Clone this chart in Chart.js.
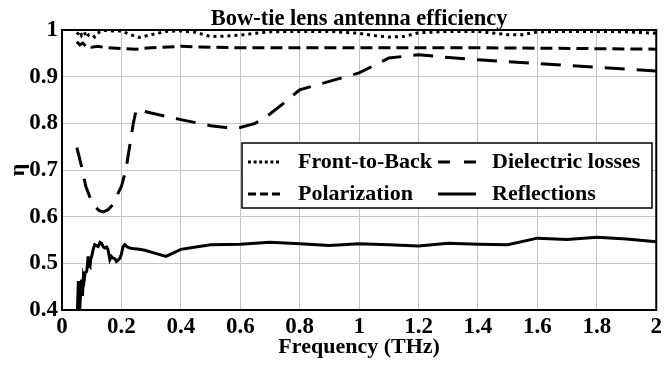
<!DOCTYPE html>
<html>
<head>
<meta charset="utf-8">
<script src="https://cdn.jsdelivr.net/npm/chart.js@4"></script>
<style>
  html, body { margin: 0; padding: 0; background: #fff; }
  #wrap { width: 665px; height: 368px; }
</style>
</head>
<body>
<div id="wrap"><canvas id="grafico" width="665" height="368"></canvas></div>
<script>
// dados
var freqFB = [0.05, 0.06, 0.066, 0.075, 0.083, 0.09, 0.1, 0.11, 0.12, 0.13, 0.14, 0.15, 0.17, 0.2, 0.23, 0.26, 0.3, 0.35, 0.4, 0.45, 0.5, 0.55, 0.6, 0.65, 0.7, 0.8, 0.9, 1.0, 1.05, 1.1, 1.15, 1.2, 1.3, 1.4, 1.5, 1.55, 1.6, 1.7, 1.8, 1.9, 2.0];
var frontToBack = [0.99, 0.998, 0.988, 0.995, 0.984, 0.99, 0.991, 0.985, 0.993, 0.997, 0.999, 0.999, 0.998, 0.998, 0.99, 0.984, 0.99, 0.997, 0.998, 0.995, 0.986, 0.987, 0.989, 0.993, 0.996, 0.997, 0.997, 0.993, 0.988, 0.985, 0.986, 0.994, 0.997, 0.997, 0.99, 0.99, 0.996, 0.997, 0.997, 0.996, 0.993];

var freqPol = [0.05, 0.06, 0.07, 0.08, 0.09, 0.1, 0.12, 0.15, 0.2, 0.25, 0.3, 0.4, 0.5, 0.6, 0.8, 1.0, 1.2, 1.4, 1.6, 1.8, 2.0];
var polarization = [0.975, 0.968, 0.972, 0.965, 0.967, 0.963, 0.965, 0.962, 0.96, 0.959, 0.962, 0.965, 0.963, 0.962, 0.962, 0.962, 0.962, 0.962, 0.961, 0.96, 0.959];

var freqDL = [0.05, 0.065, 0.08, 0.095, 0.11, 0.125, 0.14, 0.155, 0.17, 0.185, 0.2, 0.215, 0.23, 0.24, 0.25, 0.3, 0.4, 0.5, 0.55, 0.6, 0.65, 0.7, 0.75, 0.8, 0.9, 1.0, 1.1, 1.2, 1.3, 1.4, 1.5, 1.6, 1.7, 1.8, 1.9, 2.0];
var dielectric = [0.748, 0.71, 0.665, 0.64, 0.622, 0.613, 0.61, 0.615, 0.625, 0.645, 0.665, 0.70, 0.76, 0.80, 0.83, 0.822, 0.808, 0.795, 0.791, 0.791, 0.80, 0.82, 0.845, 0.872, 0.89, 0.908, 0.94, 0.947, 0.941, 0.936, 0.932, 0.928, 0.924, 0.92, 0.916, 0.912];

var freqRf = [0.049, 0.052, 0.055, 0.058, 0.06, 0.063, 0.066, 0.069, 0.072, 0.075, 0.078, 0.083, 0.086, 0.088, 0.091, 0.094, 0.097, 0.1, 0.105, 0.11, 0.116, 0.122, 0.128, 0.133, 0.139, 0.144, 0.15, 0.155, 0.161, 0.166, 0.172, 0.178, 0.183, 0.189, 0.195, 0.2, 0.205, 0.211, 0.22, 0.228, 0.245, 0.26, 0.279, 0.3, 0.35, 0.4, 0.45, 0.5, 0.6, 0.7, 0.8, 0.9, 1.0, 1.1, 1.2, 1.3, 1.4, 1.5, 1.6, 1.7, 1.8, 1.9, 2.0];
var reflections = [0.40, 0.40, 0.462, 0.41, 0.405, 0.44, 0.465, 0.43, 0.472, 0.465, 0.48, 0.482, 0.50, 0.515, 0.495, 0.493, 0.51, 0.515, 0.53, 0.54, 0.538, 0.536, 0.545, 0.543, 0.535, 0.533, 0.535, 0.529, 0.508, 0.515, 0.511, 0.51, 0.504, 0.507, 0.511, 0.52, 0.535, 0.54, 0.535, 0.533, 0.531, 0.53, 0.528, 0.524, 0.515, 0.53, 0.535, 0.54, 0.541, 0.545, 0.542, 0.538, 0.542, 0.54, 0.537, 0.543, 0.541, 0.54, 0.554, 0.551, 0.556, 0.552, 0.546];

var titulo = 'Bow-tie lens antenna efficiency';
var tituloX = 'Frequency (THz)';
var tituloY = 'η';

var fonte = 'Liberation Serif, Times New Roman, serif';

function pontos(xs, ys) {
    return xs.map(function (x, i) { return { x: x, y: ys[i] }; });
}
function fmt(v) {
    return String(Number(v.toFixed(1)));
}

// moldura preta + título centrado sobre a área do gráfico
var moldura = {
    id: 'moldura',
    afterDatasetsDraw: function (chart) {
        var a = chart.chartArea, ctx = chart.ctx;
        ctx.save();
        ctx.strokeStyle = '#000';
        ctx.lineWidth = 2;
        ctx.strokeRect(a.left, a.top, a.right - a.left, a.bottom - a.top);
        ctx.font = 'bold 22.5px ' + fonte;
        ctx.fillStyle = '#000';
        ctx.textAlign = 'center';
        ctx.textBaseline = 'alphabetic';
        ctx.fillText(titulo, (a.left + a.right) / 2, 25);
        ctx.restore();
    }
};

// legenda dentro da área, em duas colunas
var legendaInterna = {
    id: 'legendaInterna',
    afterDraw: function (chart) {
        var a = chart.chartArea, ctx = chart.ctx;
        var ds = chart.data.datasets;
        var bx = a.left + 180, by = a.top + 113, bw = 410, bh = 65;
        ctx.save();
        ctx.fillStyle = '#fff';
        ctx.fillRect(bx, by, bw, bh);
        ctx.strokeStyle = '#000';
        ctx.lineWidth = 1.5;
        ctx.strokeRect(bx, by, bw, bh);
        ctx.font = 'bold 22px ' + fonte;
        ctx.textBaseline = 'middle';
        ctx.fillStyle = '#000';
        var ordem = [0, 2, 1, 3];
        var cols = [[bx + 6, bx + 56], [bx + 196, bx + 250]];
        var rows = [by + 19, by + 51];
        ordem.forEach(function (idx, k) {
            var d = ds[idx];
            var c = cols[k % 2], r = rows[Math.floor(k / 2)];
            var w = k % 2 ? 38 : 33;
            ctx.beginPath();
            ctx.setLineDash(d.legendDash || []);
            ctx.lineWidth = d.borderWidth;
            ctx.strokeStyle = '#000';
            ctx.moveTo(c[0], r);
            ctx.lineTo(c[0] + w, r);
            ctx.stroke();
            ctx.setLineDash([]);
            ctx.fillText(d.label, c[1], r);
        });
        ctx.restore();
    }
};

document.addEventListener('DOMContentLoaded', function () {
    var ctx = document.getElementById('grafico').getContext('2d');
    new Chart(ctx, {
        type: 'line',
        data: {
            datasets: [{
                label: 'Front-to-Back',
                data: pontos(freqFB, frontToBack),
                borderColor: '#000',
                borderWidth: 3,
                borderDash: [3, 4],
                legendDash: [3, 2.6],
                pointRadius: 0,
                tension: 0
            }, {
                label: 'Polarization',
                data: pontos(freqPol, polarization),
                borderColor: '#000',
                borderWidth: 3,
                borderDash: [12, 6],
                legendDash: [8, 4],
                pointRadius: 0,
                tension: 0
            }, {
                label: 'Dielectric losses',
                data: pontos(freqDL, dielectric),
                borderColor: '#000',
                borderWidth: 3,
                borderDash: [20, 12],
                legendDash: [12, 14],
                pointRadius: 0,
                tension: 0
            }, {
                label: 'Reflections',
                data: pontos(freqRf, reflections),
                borderColor: '#000',
                borderWidth: 3,
                pointRadius: 0,
                tension: 0
            }]
        },
        options: {
            responsive: false,
            animation: false,
            layout: { padding: { left: 0, right: 6, top: 30, bottom: 0 } },
            plugins: {
                legend: { display: false },
                tooltip: { enabled: false },
                title: { display: false }
            },
            scales: {
                x: {
                    type: 'linear',
                    min: 0,
                    max: 2,
                    afterFit: function (s) { s.height = 58; },
                    ticks: {
                        stepSize: 0.2,
                        color: '#000',
                        padding: 3,
                        maxRotation: 0,
                        font: { family: fonte, size: 23, weight: 'bold' },
                        callback: fmt
                    },
                    grid: { color: '#c4c4c4', lineWidth: 1, drawTicks: false },
                    border: { color: '#000', width: 2 },
                    title: {
                        display: true,
                        text: tituloX,
                        color: '#000',
                        font: { family: fonte, size: 22, weight: 'bold', lineHeight: 1.2 },
                        padding: { top: 0, bottom: 7 }
                    }
                },
                y: {
                    min: 0.4,
                    max: 1,
                    afterFit: function (s) { s.width = 62; },
                    ticks: {
                        stepSize: 0.1,
                        color: '#000',
                        padding: 4,
                        font: { family: fonte, size: 23, weight: 'bold' },
                        callback: fmt
                    },
                    grid: { color: '#c4c4c4', lineWidth: 1, drawTicks: false },
                    border: { color: '#000', width: 2 },
                    title: {
                        display: true,
                        text: tituloY,
                        color: '#000',
                        font: { family: fonte, size: 22, weight: 'bold', lineHeight: 1.2 },
                        padding: { top: 5, bottom: 0 }
                    }
                }
            }
        },
        plugins: [moldura, legendaInterna]
    });
});
</script>
</body>
</html>
